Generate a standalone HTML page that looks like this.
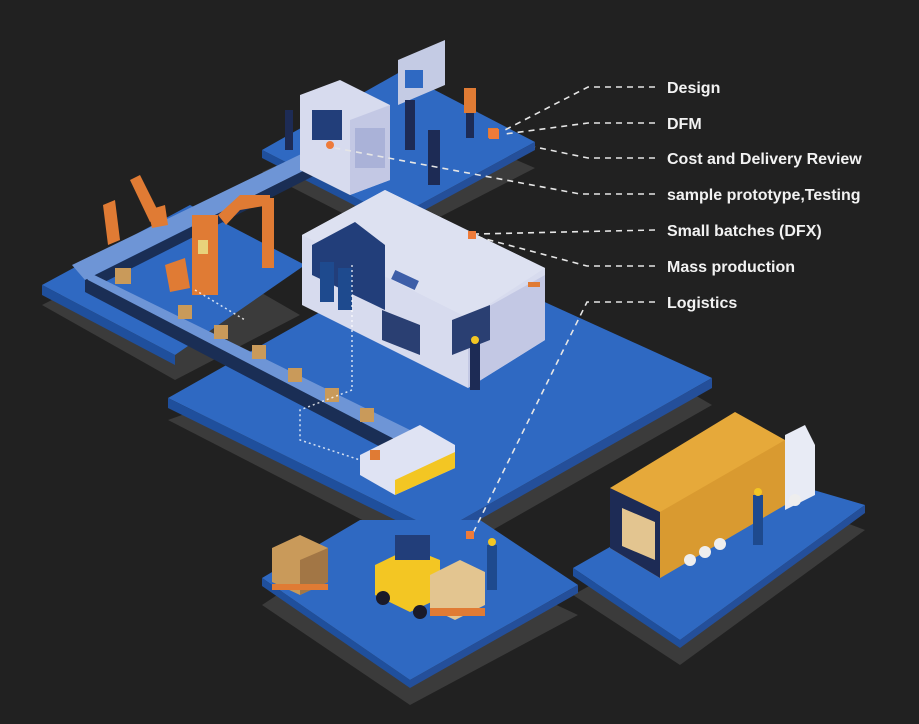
<!DOCTYPE html>
<html><head><meta charset="utf-8"><style>
html,body{margin:0;padding:0;background:#212121;}
svg{display:block}
text{font-family:"Liberation Sans",sans-serif;fill:#f2f2f2;font-size:16px;font-weight:bold;}
</style></head><body>
<svg width="919" height="724" viewBox="0 0 919 724" xmlns="http://www.w3.org/2000/svg">
<rect width="919" height="724" fill="#212121"/>
<!-- shadows -->
<g fill="#3b3b3b">
<polygon points="42,305 175,380 300,315 170,240"/>
<polygon points="168,420 440,560 712,405 600,340 420,330"/>
<polygon points="262,605 410,705 578,615 460,560 330,560"/>
<polygon points="573,595 680,665 865,530 760,490"/>
<polygon points="262,172 395,240 535,168 400,110"/>
</g>
<!-- top platform -->
<polygon points="262,150 400,72 535,142 395,218" fill="#2f69c2"/>
<polygon points="262,150 395,218 395,226 262,158" fill="#1f4f9c"/>
<polygon points="395,218 535,142 535,150 395,226" fill="#244f9a"/>
<!-- left platform -->
<polygon points="42,285 190,205 305,265 175,355" fill="#2f69c2"/>
<polygon points="42,285 175,355 175,365 42,295" fill="#1f4f9c"/>
<!-- main platform -->
<polygon points="168,398 430,250 712,378 440,532" fill="#2f69c2"/>
<polygon points="168,398 440,532 440,542 168,408" fill="#1f4f9c"/>
<polygon points="440,532 712,378 712,388 440,542" fill="#244f9a"/>
<!-- forklift platform -->
<polygon points="262,578 360,520 480,520 578,585 410,680" fill="#2f69c2"/>
<polygon points="262,578 410,680 410,688 262,586" fill="#1f4f9c"/>
<polygon points="410,680 578,585 578,593 410,688" fill="#244f9a"/>
<!-- truck platform -->
<polygon points="573,568 745,470 865,505 680,640" fill="#2f69c2"/>
<polygon points="573,568 680,640 680,648 573,576" fill="#1f4f9c"/>
<polygon points="680,640 865,505 865,513 680,648" fill="#244f9a"/>
<!-- conveyor belt -->
<polygon points="72,265 330,140 345,150 85,280" fill="#6e95d6"/>
<polygon points="85,280 345,150 345,160 85,292" fill="#1a2e55"/>
<polygon points="90,280 400,440 390,452 85,292" fill="#1a2e55"/>
<polygon points="80,268 410,430 400,442 88,280" fill="#6e95d6"/>
<!-- boxes on conveyor -->
<g fill="#c99a5a">
<rect x="178" y="305" width="14" height="14"/><rect x="214" y="325" width="14" height="14"/>
<rect x="252" y="345" width="14" height="14"/><rect x="288" y="368" width="14" height="14"/>
<rect x="325" y="388" width="14" height="14"/><rect x="360" y="408" width="14" height="14"/>
<rect x="115" y="268" width="16" height="16"/>
</g>
<!-- robot arms -->
<g fill="#e07b34">
<polygon points="130,180 140,175 160,215 150,222"/>
<polygon points="148,210 165,205 168,225 152,228"/>
<polygon points="103,205 115,200 120,240 108,245"/>
<rect x="192" y="215" width="26" height="80"/>
<polygon points="218,215 240,195 270,195 270,205 240,210 226,225"/>
<rect x="262" y="198" width="12" height="70"/>
<polygon points="165,265 185,258 190,288 170,292"/>
</g>
<rect x="198" y="240" width="10" height="14" fill="#e8d27a"/>
<!-- top machine -->
<polygon points="300,95 340,80 390,105 390,180 350,195 300,170" fill="#d7dbee"/>
<polygon points="350,120 390,105 390,180 350,195" fill="#c3c8e4"/>
<rect x="312" y="110" width="30" height="30" fill="#223e7a"/>
<rect x="355" y="128" width="30" height="40" fill="#aab2d8"/>
<!-- screen -->
<polygon points="398,60 445,40 445,85 398,105" fill="#c4cbe4"/>
<rect x="405" y="70" width="18" height="18" fill="#2f69c2"/>
<!-- people top -->
<g fill="#1d2b55"><rect x="405" y="100" width="10" height="50"/><rect x="428" y="130" width="12" height="55"/><rect x="285" y="110" width="8" height="40"/></g>
<rect x="464" y="88" width="12" height="25" fill="#e07b34"/>
<rect x="466" y="113" width="8" height="25" fill="#1d2b55"/>
<rect x="488" y="128" width="10" height="10" fill="#e07b34"/>
<!-- main machine -->
<polygon points="302,235 385,190 545,268 545,340 468,388 302,305" fill="#d7dbee"/>
<polygon points="468,318 545,275 545,340 468,388" fill="#c3c8e4"/>
<polygon points="302,235 385,190 545,268 468,318" fill="#dde1f1"/>
<polygon points="312,245 355,222 385,245 385,310 312,275" fill="#223e7a"/>
<g fill="#1e4a8e"><rect x="320" y="262" width="14" height="40"/><rect x="338" y="268" width="14" height="42"/></g>
<polygon points="382,310 420,325 420,355 382,340" fill="#2a3f72"/>
<polygon points="452,320 490,305 490,340 452,355" fill="#2a3f72"/>
<rect x="392" y="275" width="26" height="10" fill="#3d5ea8" transform="rotate(25 405 280)"/>
<rect x="528" y="282" width="12" height="5" fill="#e07b34"/>
<rect x="470" y="340" width="10" height="50" fill="#1d2b55"/>
<circle cx="475" cy="340" r="4" fill="#f3c623"/>
<!-- bin -->
<polygon points="360,455 420,425 455,445 455,468 395,495 360,475" fill="#dfe3f3"/>
<polygon points="395,480 455,452 455,468 395,495" fill="#f3c623"/>
<rect x="370" y="450" width="10" height="10" fill="#e07b34"/>
<!-- forklift & pallets -->
<polygon points="272,548 300,535 328,548 328,582 300,595 272,582" fill="#c99a5a"/>
<polygon points="300,560 328,548 328,582 300,595" fill="#a27645"/>
<rect x="272" y="584" width="56" height="6" fill="#e07b34"/>
<polygon points="375,565 410,548 440,560 440,598 410,612 375,595" fill="#f3c623"/>
<rect x="395" y="535" width="35" height="25" fill="#223e7a"/>
<circle cx="383" cy="598" r="7" fill="#1a1a2a"/><circle cx="420" cy="612" r="7" fill="#1a1a2a"/>
<polygon points="430,575 460,560 485,572 485,605 455,620 430,608" fill="#e3c590"/>
<rect x="430" y="608" width="55" height="8" fill="#e07b34"/>
<rect x="487" y="545" width="10" height="45" fill="#1e4a8e"/>
<circle cx="492" cy="542" r="4" fill="#f3c623"/>
<!-- truck -->
<polygon points="610,488 735,412 785,440 785,505 660,578 610,548" fill="#e6a93a"/>
<polygon points="660,512 785,440 785,505 660,578" fill="#d99a30"/>
<polygon points="610,488 660,512 660,578 610,548" fill="#1d2b55"/>
<polygon points="622,508 655,522 655,560 622,546" fill="#e3c590"/>
<polygon points="785,435 805,425 815,445 815,495 785,510" fill="#e8ebf5"/>
<g fill="#eee"><circle cx="690" cy="560" r="6"/><circle cx="705" cy="552" r="6"/><circle cx="720" cy="544" r="6"/><circle cx="795" cy="500" r="6"/></g>
<rect x="753" y="495" width="10" height="50" fill="#1e4a8e"/>
<circle cx="758" cy="492" r="4" fill="#f3c623"/>
<!-- small dotted connections -->
<g stroke="#fff" stroke-width="1.5" stroke-dasharray="2 3" fill="none" opacity="0.8">
<polyline points="352,265 352,390 300,410 300,440 360,460"/>
<polyline points="195,290 245,320"/>
</g>
<!-- label connectors -->
<g stroke="#e6e6e6" stroke-width="1.6" stroke-dasharray="6 5" fill="none">
<polyline points="655,87 588,87 503,131"/>
<polyline points="655,123 588,123 505,134"/>
<polyline points="655,158 588,158 535,147"/>
<polyline points="655,194 580,194 335,148"/>
<polyline points="655,230 476,234"/>
<polyline points="655,266 587,266 478,237"/>
<polyline points="655,302 587,302 472,535"/>
</g>
<g fill="#ee7b3a">
<rect x="489" y="129" width="10" height="10"/>
<rect x="468" y="231" width="8" height="8"/>
<rect x="466" y="531" width="8" height="8"/>
<circle cx="330" cy="145" r="4"/>
</g>
<!-- labels -->
<text x="667" y="93">Design</text>
<text x="667" y="129">DFM</text>
<text x="667" y="164">Cost and Delivery Review</text>
<text x="667" y="200">sample prototype,Testing</text>
<text x="667" y="236">Small batches (DFX)</text>
<text x="667" y="272">Mass production</text>
<text x="667" y="308">Logistics</text>
</svg>
</body></html>
